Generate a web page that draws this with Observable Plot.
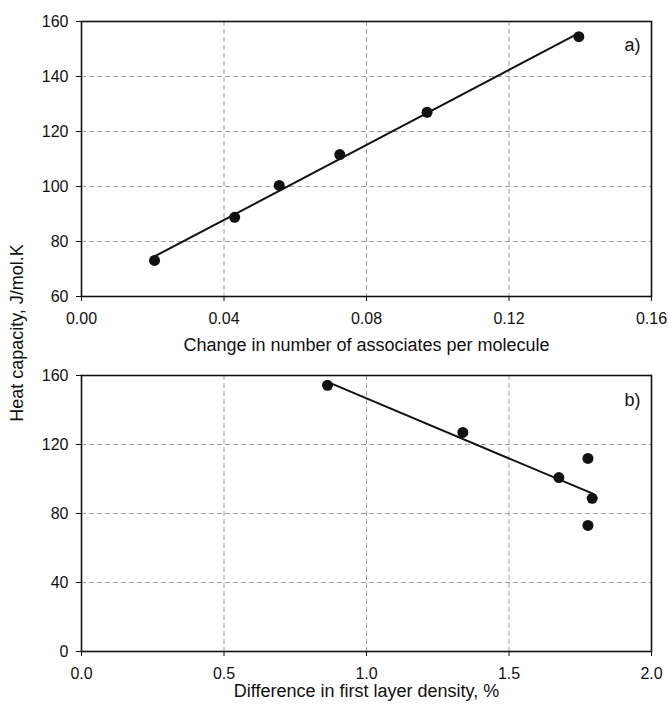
<!DOCTYPE html>
<html>
<head>
<meta charset="utf-8">
<script src="https://cdn.jsdelivr.net/npm/d3@7"></script>
<script src="https://cdn.jsdelivr.net/npm/@observablehq/plot@0.6"></script>
<style>
  html, body { margin: 0; padding: 0; background: #fff; }
  #wrap { position: relative; width: 668px; height: 706px; font-family: "Liberation Sans", Arial, sans-serif; }
  #ylab { position: absolute; left: 17px; top: 333px; transform: translate(-50%, -50%) rotate(-90deg); font-size: 18px; white-space: nowrap; color: #111; }
  svg { display: block; }
</style>
</head>
<body>
<div id="wrap"><div id="ylab">Heat capacity, J/mol.K</div></div>
<script>
// Panel a: heat capacity vs change in number of associates per molecule
const assocChange = [0.0205, 0.043, 0.0555, 0.0725, 0.097, 0.1396];
const heatCapA   = [73.1, 88.8, 100.4, 111.6, 127, 154.5];
// Panel b: heat capacity vs difference in first layer density (%)
const densityDiff = [0.863, 1.338, 1.675, 1.777, 1.792, 1.777];
const heatCapB    = [154.3, 127, 100.8, 111.9, 88.8, 73.1];
const inFitB      = [true, true, true, false, true, false];
// Tick labels
const xTicksA = [0, 0.04, 0.08, 0.12, 0.16];
const yTicksA = [60, 80, 100, 120, 140, 160];
const xTicksB = [0, 0.5, 1.0, 1.5, 2.0];
const yTicksB = [0, 40, 80, 120, 160];
const titleA = "Change in number of associates per molecule";
const titleB = "Difference in first layer density, %";

const dataA = assocChange.map((x, i) => ({x, y: heatCapA[i]}));
const dataB = densityDiff.map((x, i) => ({x, y: heatCapB[i], fit: inFitB[i]}));

const font = "Liberation Sans, Arial, sans-serif";
const gridStyle = {stroke: "#a0a0a0", strokeOpacity: 1, strokeWidth: 1, strokeDasharray: "5,3"};

function panel({data, xDom, yDom, xTicks, yTicks, xFmt, title, tag, height, marginTop, marginBottom, titleDy, tagDy}) {
  return Plot.plot({
    width: 668, height, marginLeft: 81, marginRight: 17, marginTop, marginBottom,
    style: {fontFamily: font, fontSize: "16px", color: "#111", background: "#fff"},
    x: {domain: xDom}, y: {domain: yDom},
    marks: [
      Plot.gridX(xTicks.slice(1, -1), gridStyle),
      Plot.gridY(yTicks.slice(1, -1), gridStyle),
      Plot.axisX(xTicks, {tickFormat: d3.format(xFmt), tickSize: 5, tickPadding: 11, label: null, fontSize: 16}),
      Plot.axisY(yTicks, {tickFormat: d3.format("d"), tickSize: 5, tickPadding: 8, label: null, fontSize: 16}),
      Plot.frame({stroke: "#111", strokeWidth: 1.6}),
      Plot.linearRegressionY(data.filter(d => d.fit !== false), {x: "x", y: "y", ci: 0, stroke: "#111", strokeWidth: 2}),
      Plot.dot(data, {x: "x", y: "y", r: 5.5, fill: "#111", stroke: "none"}),
      Plot.text([tag], {frameAnchor: "top-right", dx: -11, dy: tagDy, fontSize: 18, fill: "#111"}),
      Plot.text([title], {frameAnchor: "bottom", lineAnchor: "middle", dy: titleDy, fontSize: 18, fill: "#111"})
    ]
  });
}

const wrap = document.getElementById("wrap");
wrap.appendChild(panel({
  data: dataA, xDom: [0, 0.16], yDom: [60, 160], xTicks: xTicksA, yTicks: yTicksA, xFmt: ".2f",
  title: titleA, tag: "a)", height: 355, marginTop: 21, marginBottom: 59, titleDy: 49, tagDy: 17
}));
wrap.appendChild(panel({
  data: dataB, xDom: [0, 2], yDom: [0, 160], xTicks: xTicksB, yTicks: yTicksB, xFmt: ".1f",
  title: titleB, tag: "b)", height: 351, marginTop: 20, marginBottom: 55, titleDy: 40, tagDy: 18
}));
</script>
</body>
</html>
